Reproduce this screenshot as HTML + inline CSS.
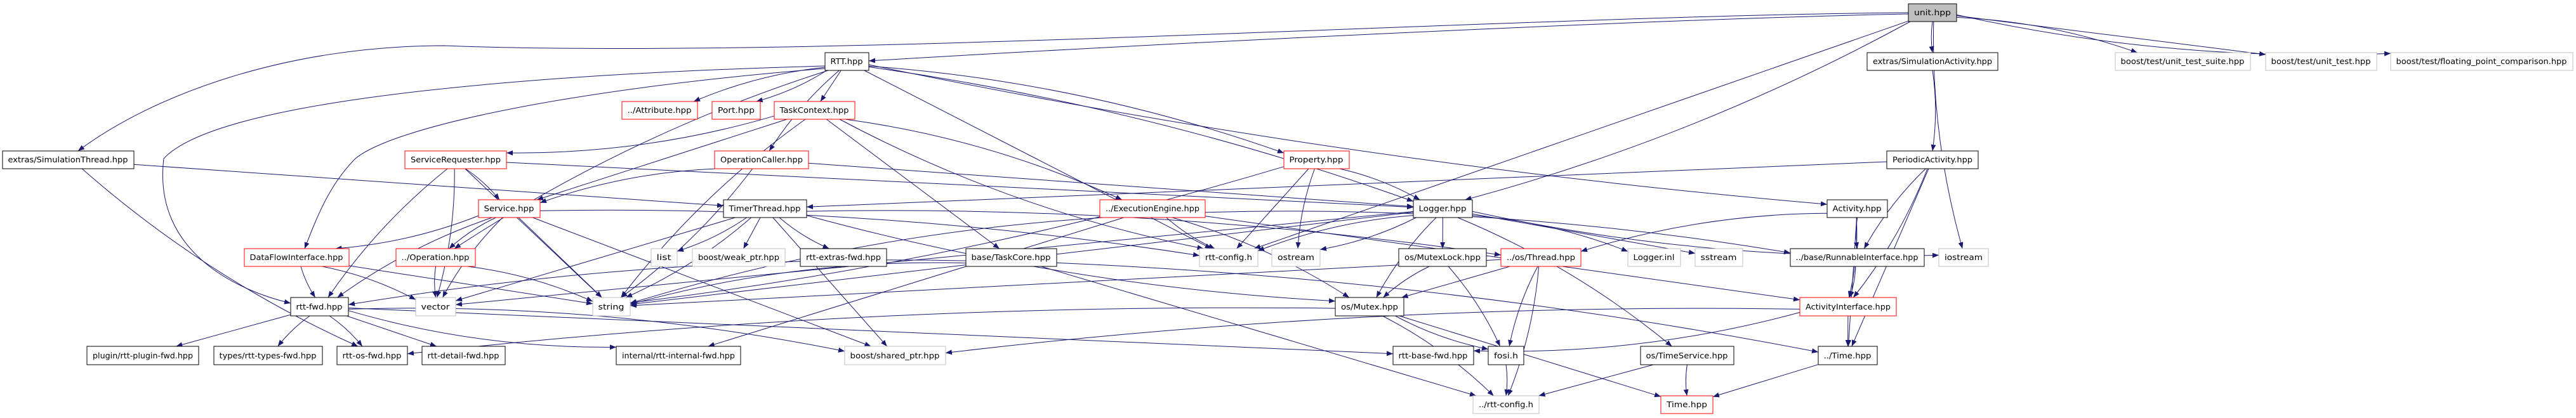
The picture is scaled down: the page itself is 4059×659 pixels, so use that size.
<!DOCTYPE html>
<html><head><meta charset="utf-8"><style>
html,body{margin:0;padding:0;background:#fff;}
svg{display:block;}
text{font-family:"DejaVu Sans","Liberation Sans",sans-serif;font-size:12px;fill:#000;}
</style></head><body>
<svg id="g" width="4059" height="659" viewBox="0 0 4059 659" xmlns="http://www.w3.org/2000/svg">
<defs><marker id="a" viewBox="0 0 10 8" refX="10" refY="4" markerWidth="10" markerHeight="8" markerUnits="userSpaceOnUse" orient="auto"><path d="M0,0L10,4L0,8z" fill="#191970"/></marker></defs>
<g id="edges" fill="none" stroke="#191970" stroke-width="1"></g>
<g id="nodes">
<rect x="3007" y="6" width="76" height="28" fill="#bfbfbf" stroke="#000"/><text x="3045" y="24" text-anchor="middle">unit.hpp</text>
<rect x="1300" y="83" width="69" height="28" fill="#fff" stroke="#000"/><text x="1334" y="101" text-anchor="middle">RTT.hpp</text>
<rect x="2942" y="83" width="206" height="28" fill="#fff" stroke="#000"/><text x="3045" y="101" text-anchor="middle">extras/SimulationActivity.hpp</text>
<rect x="3333" y="83" width="213" height="28" fill="#fff" stroke="#bfbfbf"/><text x="3439" y="101" text-anchor="middle">boost/test/unit_test_suite.hpp</text>
<rect x="3570" y="83" width="175" height="28" fill="#fff" stroke="#bfbfbf"/><text x="3657" y="101" text-anchor="middle">boost/test/unit_test.hpp</text>
<rect x="3767" y="83" width="287" height="28" fill="#fff" stroke="#bfbfbf"/><text x="3910" y="101" text-anchor="middle">boost/test/floating_point_comparison.hpp</text>
<rect x="980" y="160" width="119" height="28" fill="#fff" stroke="#f00"/><text x="1039" y="178" text-anchor="middle">../Attribute.hpp</text>
<rect x="1122" y="160" width="76" height="28" fill="#fff" stroke="#f00"/><text x="1160" y="178" text-anchor="middle">Port.hpp</text>
<rect x="1220" y="160" width="127" height="28" fill="#fff" stroke="#f00"/><text x="1283" y="178" text-anchor="middle">TaskContext.hpp</text>
<rect x="4" y="238" width="207" height="28" fill="#fff" stroke="#000"/><text x="107" y="256" text-anchor="middle">extras/SimulationThread.hpp</text>
<rect x="638" y="238" width="160" height="28" fill="#fff" stroke="#f00"/><text x="718" y="256" text-anchor="middle">ServiceRequester.hpp</text>
<rect x="1126" y="238" width="148" height="28" fill="#fff" stroke="#f00"/><text x="1200" y="256" text-anchor="middle">OperationCaller.hpp</text>
<rect x="2023" y="238" width="103" height="28" fill="#fff" stroke="#f00"/><text x="2074" y="256" text-anchor="middle">Property.hpp</text>
<rect x="2973" y="238" width="144" height="28" fill="#fff" stroke="#000"/><text x="3045" y="256" text-anchor="middle">PeriodicActivity.hpp</text>
<rect x="754" y="315" width="97" height="28" fill="#fff" stroke="#f00"/><text x="802" y="333" text-anchor="middle">Service.hpp</text>
<rect x="1140" y="315" width="131" height="28" fill="#fff" stroke="#000"/><text x="1205" y="333" text-anchor="middle">TimerThread.hpp</text>
<rect x="1733" y="315" width="166" height="28" fill="#fff" stroke="#f00"/><text x="1816" y="333" text-anchor="middle">../ExecutionEngine.hpp</text>
<rect x="2227" y="315" width="93" height="28" fill="#fff" stroke="#000"/><text x="2273" y="333" text-anchor="middle">Logger.hpp</text>
<rect x="2879" y="315" width="95" height="28" fill="#fff" stroke="#000"/><text x="2926" y="333" text-anchor="middle">Activity.hpp</text>
<rect x="385" y="392" width="165" height="28" fill="#fff" stroke="#f00"/><text x="467" y="410" text-anchor="middle">DataFlowInterface.hpp</text>
<rect x="624" y="392" width="125" height="28" fill="#fff" stroke="#f00"/><text x="686" y="410" text-anchor="middle">../Operation.hpp</text>
<rect x="1026" y="392" width="41" height="28" fill="#fff" stroke="#bfbfbf"/><text x="1046" y="410" text-anchor="middle">list</text>
<rect x="1091" y="392" width="146" height="28" fill="#fff" stroke="#bfbfbf"/><text x="1164" y="410" text-anchor="middle">boost/weak_ptr.hpp</text>
<rect x="1261" y="392" width="136" height="28" fill="#fff" stroke="#000"/><text x="1329" y="410" text-anchor="middle">rtt-extras-fwd.hpp</text>
<rect x="1522" y="392" width="143" height="28" fill="#fff" stroke="#000"/><text x="1593" y="410" text-anchor="middle">base/TaskCore.hpp</text>
<rect x="1890" y="392" width="92" height="28" fill="#fff" stroke="#bfbfbf"/><text x="1936" y="410" text-anchor="middle">rtt-config.h</text>
<rect x="2004" y="392" width="76" height="28" fill="#fff" stroke="#bfbfbf"/><text x="2042" y="410" text-anchor="middle">ostream</text>
<rect x="2204" y="392" width="138" height="28" fill="#fff" stroke="#000"/><text x="2273" y="410" text-anchor="middle">os/MutexLock.hpp</text>
<rect x="2365" y="392" width="126" height="28" fill="#fff" stroke="#f00"/><text x="2428" y="410" text-anchor="middle">../os/Thread.hpp</text>
<rect x="2565" y="392" width="83" height="28" fill="#fff" stroke="#bfbfbf"/><text x="2606" y="410" text-anchor="middle">Logger.inl</text>
<rect x="2671" y="392" width="75" height="28" fill="#fff" stroke="#bfbfbf"/><text x="2708" y="410" text-anchor="middle">sstream</text>
<rect x="2821" y="392" width="211" height="28" fill="#fff" stroke="#000"/><text x="2926" y="410" text-anchor="middle">../base/RunnableInterface.hpp</text>
<rect x="3055" y="392" width="78" height="28" fill="#fff" stroke="#bfbfbf"/><text x="3094" y="410" text-anchor="middle">iostream</text>
<rect x="458" y="469" width="91" height="29" fill="#fff" stroke="#000"/><text x="503" y="488" text-anchor="middle">rtt-fwd.hpp</text>
<rect x="655" y="469" width="63" height="29" fill="#fff" stroke="#bfbfbf"/><text x="686" y="488" text-anchor="middle">vector</text>
<rect x="934" y="469" width="59" height="29" fill="#fff" stroke="#bfbfbf"/><text x="963" y="488" text-anchor="middle">string</text>
<rect x="2104" y="469" width="108" height="29" fill="#fff" stroke="#000"/><text x="2158" y="488" text-anchor="middle">os/Mutex.hpp</text>
<rect x="2836" y="469" width="152" height="29" fill="#fff" stroke="#f00"/><text x="2912" y="488" text-anchor="middle">ActivityInterface.hpp</text>
<rect x="137" y="546" width="176" height="29" fill="#fff" stroke="#000"/><text x="225" y="565" text-anchor="middle">plugin/rtt-plugin-fwd.hpp</text>
<rect x="337" y="546" width="171" height="29" fill="#fff" stroke="#000"/><text x="422" y="565" text-anchor="middle">types/rtt-types-fwd.hpp</text>
<rect x="531" y="546" width="111" height="29" fill="#fff" stroke="#000"/><text x="586" y="565" text-anchor="middle">rtt-os-fwd.hpp</text>
<rect x="665" y="546" width="131" height="29" fill="#fff" stroke="#000"/><text x="730" y="565" text-anchor="middle">rtt-detail-fwd.hpp</text>
<rect x="971" y="546" width="196" height="29" fill="#fff" stroke="#000"/><text x="1069" y="565" text-anchor="middle">internal/rtt-internal-fwd.hpp</text>
<rect x="1331" y="546" width="159" height="29" fill="#fff" stroke="#bfbfbf"/><text x="1410" y="565" text-anchor="middle">boost/shared_ptr.hpp</text>
<rect x="2195" y="546" width="127" height="29" fill="#fff" stroke="#000"/><text x="2258" y="565" text-anchor="middle">rtt-base-fwd.hpp</text>
<rect x="2345" y="546" width="56" height="29" fill="#fff" stroke="#000"/><text x="2373" y="565" text-anchor="middle">fosi.h</text>
<rect x="2585" y="546" width="147" height="29" fill="#fff" stroke="#000"/><text x="2658" y="565" text-anchor="middle">os/TimeService.hpp</text>
<rect x="2865" y="546" width="93" height="29" fill="#fff" stroke="#000"/><text x="2911" y="565" text-anchor="middle">../Time.hpp</text>
<rect x="2321" y="624" width="104" height="28" fill="#fff" stroke="#bfbfbf"/><text x="2373" y="642" text-anchor="middle">../rtt-config.h</text>
<rect x="2617" y="624" width="82" height="28" fill="#fff" stroke="#f00"/><text x="2658" y="642" text-anchor="middle">Time.hpp</text>
</g>
</svg>
<script>
var B={};
document.querySelectorAll('#nodes rect').forEach(function(r){var t=r.nextElementSibling;B[t.textContent]=[+r.getAttribute('x'),+r.getAttribute('y'),+r.getAttribute('width'),+r.getAttribute('height')];
var w=+r.getAttribute('width')-18;t.setAttribute('textLength',w);t.setAttribute('lengthAdjust','spacingAndGlyphs');});
var OV={
'unit.hpp|extras/SimulationThread.hpp':'M3007,20 C2400,24 1300,95 700,72 C450,72 240,150 123,238',
'unit.hpp|RTT.hpp':'M3007,22 C2600,30 1800,70 1369,96',
'RTT.hpp|rtt-fwd.hpp':'M1300,104 C900,115 350,150 258,250 C240,400 380,460 458,478',
'RTT.hpp|DataFlowInterface.hpp':'M1300,108 C900,140 620,200 560,250 C520,290 500,340 480,392'
};
var E=[
['unit.hpp','RTT.hpp'],['unit.hpp','extras/SimulationThread.hpp'],['unit.hpp','extras/SimulationActivity.hpp'],['unit.hpp','Logger.hpp'],['unit.hpp','rtt-config.h'],['unit.hpp','iostream'],['unit.hpp','boost/test/unit_test_suite.hpp'],['unit.hpp','boost/test/unit_test.hpp'],['unit.hpp','boost/test/floating_point_comparison.hpp'],
['extras/SimulationActivity.hpp','PeriodicActivity.hpp'],
['PeriodicActivity.hpp','TimerThread.hpp'],['PeriodicActivity.hpp','../base/RunnableInterface.hpp'],['PeriodicActivity.hpp','ActivityInterface.hpp'],['PeriodicActivity.hpp','../Time.hpp'],
['Activity.hpp','../base/RunnableInterface.hpp'],['Activity.hpp','ActivityInterface.hpp'],['Activity.hpp','../Time.hpp'],['Activity.hpp','../os/Thread.hpp'],
['../base/RunnableInterface.hpp','ActivityInterface.hpp'],['ActivityInterface.hpp','../Time.hpp'],['ActivityInterface.hpp','boost/shared_ptr.hpp'],['ActivityInterface.hpp','rtt-base-fwd.hpp'],
['../Time.hpp','Time.hpp'],
['RTT.hpp','../Attribute.hpp'],['RTT.hpp','Port.hpp'],['RTT.hpp','TaskContext.hpp'],['RTT.hpp','OperationCaller.hpp'],['RTT.hpp','Property.hpp'],['RTT.hpp','rtt-config.h'],['RTT.hpp','Activity.hpp'],['RTT.hpp','DataFlowInterface.hpp'],['RTT.hpp','rtt-fwd.hpp'],['RTT.hpp','../Operation.hpp'],['RTT.hpp','Logger.hpp'],
['extras/SimulationThread.hpp','TimerThread.hpp'],['extras/SimulationThread.hpp','rtt-os-fwd.hpp'],
['TaskContext.hpp','ServiceRequester.hpp'],['TaskContext.hpp','Service.hpp'],['TaskContext.hpp','string'],['TaskContext.hpp','../ExecutionEngine.hpp'],['TaskContext.hpp','base/TaskCore.hpp'],['TaskContext.hpp','rtt-config.h'],
['ServiceRequester.hpp','Service.hpp'],['ServiceRequester.hpp','string'],['ServiceRequester.hpp','rtt-fwd.hpp'],['ServiceRequester.hpp','vector'],['ServiceRequester.hpp','Logger.hpp'],
['OperationCaller.hpp','Service.hpp'],['OperationCaller.hpp','string'],['OperationCaller.hpp','Logger.hpp'],
['Service.hpp','../Operation.hpp'],['Service.hpp','DataFlowInterface.hpp'],['Service.hpp','string'],['Service.hpp','vector'],['Service.hpp','rtt-config.h'],['Service.hpp','boost/shared_ptr.hpp'],['Service.hpp','rtt-fwd.hpp'],
['TimerThread.hpp','list'],['TimerThread.hpp','boost/weak_ptr.hpp'],['TimerThread.hpp','rtt-extras-fwd.hpp'],['TimerThread.hpp','string'],['TimerThread.hpp','vector'],['TimerThread.hpp','os/Mutex.hpp'],['TimerThread.hpp','../os/Thread.hpp'],['TimerThread.hpp','boost/shared_ptr.hpp'],
['DataFlowInterface.hpp','rtt-fwd.hpp'],['DataFlowInterface.hpp','vector'],['DataFlowInterface.hpp','string'],
['../Operation.hpp','vector'],['../Operation.hpp','string'],
['rtt-fwd.hpp','plugin/rtt-plugin-fwd.hpp'],['rtt-fwd.hpp','types/rtt-types-fwd.hpp'],['rtt-fwd.hpp','rtt-os-fwd.hpp'],['rtt-fwd.hpp','rtt-detail-fwd.hpp'],['rtt-fwd.hpp','internal/rtt-internal-fwd.hpp'],['rtt-fwd.hpp','boost/shared_ptr.hpp'],['rtt-fwd.hpp','rtt-base-fwd.hpp'],
['../ExecutionEngine.hpp','rtt-config.h'],['../ExecutionEngine.hpp','os/Mutex.hpp'],['../ExecutionEngine.hpp','internal/rtt-internal-fwd.hpp'],['../ExecutionEngine.hpp','string'],['../ExecutionEngine.hpp','../base/RunnableInterface.hpp'],['../ExecutionEngine.hpp','ActivityInterface.hpp'],
['base/TaskCore.hpp','string'],['base/TaskCore.hpp','../Time.hpp'],['base/TaskCore.hpp','../rtt-config.h'],['base/TaskCore.hpp','rtt-fwd.hpp'],
['Property.hpp','Logger.hpp'],['Property.hpp','rtt-config.h'],['Property.hpp','ostream'],['Property.hpp','string'],
['Logger.hpp','os/MutexLock.hpp'],['Logger.hpp','os/Mutex.hpp'],['Logger.hpp','Logger.inl'],['Logger.hpp','sstream'],['Logger.hpp','iostream'],['Logger.hpp','ostream'],['Logger.hpp','string'],['Logger.hpp','rtt-config.h'],['Logger.hpp','os/TimeService.hpp'],['Logger.hpp','vector'],
['os/MutexLock.hpp','os/Mutex.hpp'],['os/MutexLock.hpp','fosi.h'],
['../os/Thread.hpp','os/Mutex.hpp'],['../os/Thread.hpp','fosi.h'],['../os/Thread.hpp','../rtt-config.h'],['../os/Thread.hpp','string'],
['os/Mutex.hpp','fosi.h'],['os/Mutex.hpp','../rtt-config.h'],['os/Mutex.hpp','Time.hpp'],['os/Mutex.hpp','rtt-os-fwd.hpp'],
['fosi.h','../rtt-config.h'],['os/TimeService.hpp','../rtt-config.h'],['os/TimeService.hpp','Time.hpp']
];
var G=document.getElementById('edges');
function hit(b,cx,cy,dx,dy){
 var hw=b[2]/2,hh=b[3]/2,tx=dx?hw/Math.abs(dx):1e9,ty=dy?hh/Math.abs(dy):1e9,t=Math.min(tx,ty);
 return [cx+dx*t,cy+dy*t];}
E.forEach(function(e,i){var s=B[e[0]],t=B[e[1]];if(!s||!t)return;
 var d=OV[e[0]+'|'+e[1]];
 if(!d){
 var sx=s[0]+s[2]/2,sy=s[1]+s[3]/2,tx=t[0]+t[2]/2,ty=t[1]+t[3]/2;
 var dx=tx-sx,dy=ty-sy;
 var p0=hit(s,sx,sy,dx,dy),p1=hit(t,tx,ty,-dx,-dy);
 var L=Math.hypot(p1[0]-p0[0],p1[1]-p0[1]);
 var nx=-(p1[1]-p0[1])/L,ny=(p1[0]-p0[0])/L,k=((i%3)-1)*Math.min(30,L*0.05);
 var c1=[p0[0]+(p1[0]-p0[0])/3+nx*k,p0[1]+(p1[1]-p0[1])/3+ny*k],c2=[p0[0]+2*(p1[0]-p0[0])/3+nx*k,p0[1]+2*(p1[1]-p0[1])/3+ny*k];
 d='M'+p0[0].toFixed(1)+','+p0[1].toFixed(1)+' C'+c1[0].toFixed(1)+','+c1[1].toFixed(1)+' '+c2[0].toFixed(1)+','+c2[1].toFixed(1)+' '+p1[0].toFixed(1)+','+p1[1].toFixed(1);}
 var p=document.createElementNS('http://www.w3.org/2000/svg','path');p.setAttribute('d',d);p.setAttribute('marker-end','url(#a)');G.appendChild(p);});
</script>
</body></html>
